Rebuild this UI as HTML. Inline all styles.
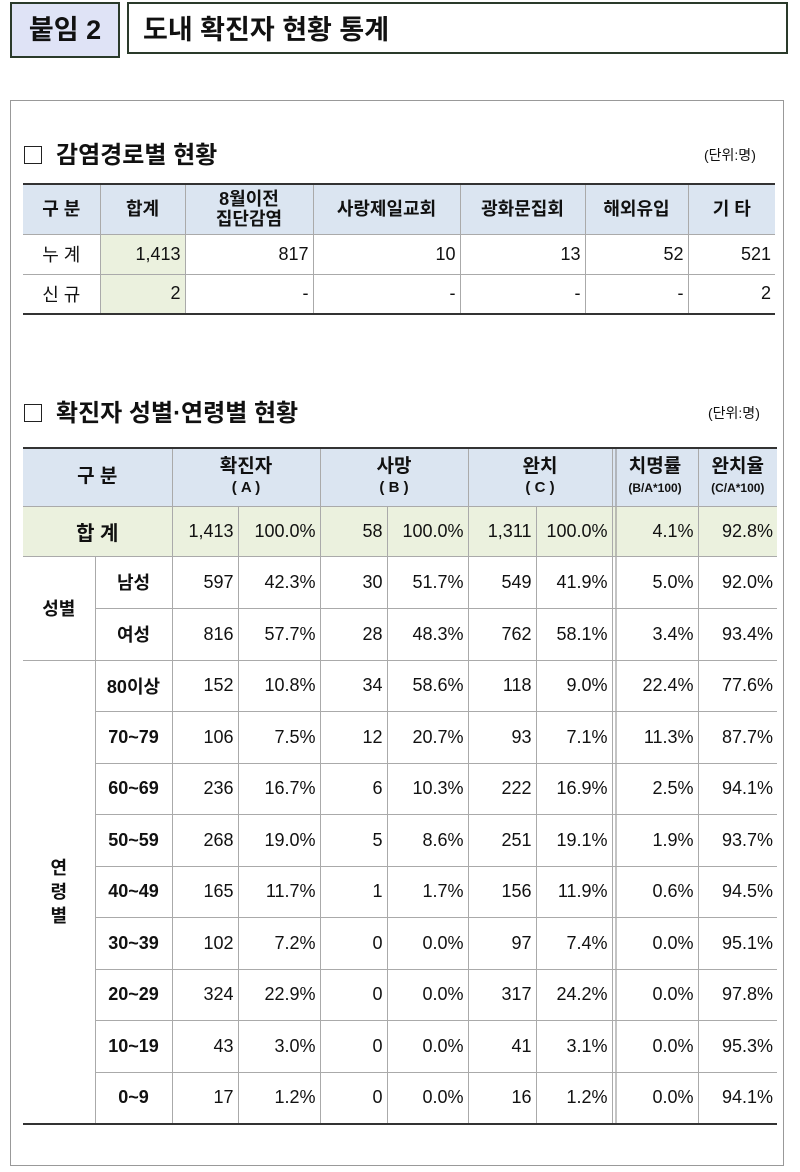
<!DOCTYPE html>
<html><head><meta charset="utf-8"><style>
body{margin:0;width:800px;height:1172px;background:#fff;font-family:"Liberation Sans","Noto Sans CJK KR",sans-serif;position:relative;overflow:hidden;color:#111}
.abs{position:absolute}
.tag{left:10px;top:2px;width:106px;height:52px;background:#dfe3f6;border:2px solid #2a3a2a;font-size:27px;font-weight:bold;line-height:52px;text-align:center;box-sizing:content-box}
.ttl{left:127px;top:2px;width:661px;height:52px;border:2px solid #2a3a2a;font-size:27px;font-weight:bold;line-height:52px;padding-left:14px;box-sizing:border-box}
.frame{left:10px;top:100px;width:772px;height:1064px;border:1px solid #999}
.sec{font-size:24px;font-weight:bold}
.box{display:inline-block;width:16px;height:16px;border:1.5px solid #222;margin-right:14px;vertical-align:-1px}
.unit{font-size:14px}
table{position:absolute;border-collapse:collapse;table-layout:fixed;font-size:18px}
td{border:1px solid #aaa;padding:0 4px;text-align:right;overflow:hidden;white-space:nowrap}
td:first-child{border-left:none}
tr td:last-child{border-right:none}
.h td{background-color:#dbe5f1;text-align:center;font-weight:600;line-height:20px}
.c{text-align:center}
.g{background-color:#ebf1de}
.b{font-weight:bold}
.dl{border-left:1px solid #888;background-image:linear-gradient(to right,transparent 3px,#888 3px,#888 4px,transparent 4px)}
</style></head><body>
<div class="abs tag">붙임 2</div>
<div class="abs ttl">도내 확진자 현황 통계</div>
<div class="abs frame"></div>

<div class="abs sec" style="left:24px;top:135px"><span class="box"></span>감염경로별 현황</div>
<div class="abs unit" style="left:704px;top:145px">(단위:명)</div>
<table style="left:23px;top:183px;width:752px;border-top:2.5px solid #333;border-bottom:2.5px solid #333">
<colgroup><col style="width:77px"><col style="width:85px"><col style="width:128px"><col style="width:147px"><col style="width:125px"><col style="width:103px"><col style="width:87px"></colgroup>
<tr class="h" style="height:50px"><td>구 분</td><td>합계</td><td>8월이전<br>집단감염</td><td>사랑제일교회</td><td>광화문집회</td><td>해외유입</td><td>기 타</td></tr>
<tr style="height:40px"><td class="c">누 계</td><td class="g">1,413</td><td>817</td><td>10</td><td>13</td><td>52</td><td>521</td></tr>
<tr style="height:40px"><td class="c">신 규</td><td class="g">2</td><td>-</td><td>-</td><td>-</td><td>-</td><td>2</td></tr>
</table>

<div class="abs sec" style="left:24px;top:393px"><span class="box"></span>확진자 성별·연령별 현황</div>
<div class="abs unit" style="left:708px;top:403px">(단위:명)</div>
<table style="left:23px;top:447px;width:754px;border-top:2.5px solid #333;border-bottom:2.5px solid #333">
<colgroup><col style="width:72px"><col style="width:77px"><col style="width:66px"><col style="width:82px"><col style="width:67px"><col style="width:81px"><col style="width:68px"><col style="width:76px"><col style="width:86px"><col style="width:79px"></colgroup>
<tr class="h" style="height:58px;font-size:19px"><td colspan="2">구 분</td><td colspan="2">확진자<br><span style="font-size:15px">( A )</span></td><td colspan="2">사망<br><span style="font-size:15px">( B )</span></td><td colspan="2">완치<br><span style="font-size:15px">( C )</span></td><td class="dl">치명률<br><span style="font-size:12px">(B/A*100)</span></td><td>완치율<br><span style="font-size:12px">(C/A*100)</span></td></tr>
<tr class="g" style="height:50px"><td colspan="2" class="c b" style="font-size:20px">합 계</td><td>1,413</td><td>100.0%</td><td>58</td><td>100.0%</td><td>1,311</td><td>100.0%</td><td class="dl">4.1%</td><td>92.8%</td></tr>
<tr style="height:52px"><td rowspan="2" class="c b">성별</td><td class="c b">남성</td><td>597</td><td>42.3%</td><td>30</td><td>51.7%</td><td>549</td><td>41.9%</td><td class="dl">5.0%</td><td>92.0%</td></tr>
<tr style="height:52px"><td class="c b">여성</td><td>816</td><td>57.7%</td><td>28</td><td>48.3%</td><td>762</td><td>58.1%</td><td class="dl">3.4%</td><td>93.4%</td></tr>
<tr style="height:51.5px"><td rowspan="9" class="c b" style="line-height:24px">연<br>령<br>별</td><td class="c b">80이상</td><td>152</td><td>10.8%</td><td>34</td><td>58.6%</td><td>118</td><td>9.0%</td><td class="dl">22.4%</td><td>77.6%</td></tr>
<tr style="height:51.5px"><td class="c b">70~79</td><td>106</td><td>7.5%</td><td>12</td><td>20.7%</td><td>93</td><td>7.1%</td><td class="dl">11.3%</td><td>87.7%</td></tr>
<tr style="height:51.5px"><td class="c b">60~69</td><td>236</td><td>16.7%</td><td>6</td><td>10.3%</td><td>222</td><td>16.9%</td><td class="dl">2.5%</td><td>94.1%</td></tr>
<tr style="height:51.5px"><td class="c b">50~59</td><td>268</td><td>19.0%</td><td>5</td><td>8.6%</td><td>251</td><td>19.1%</td><td class="dl">1.9%</td><td>93.7%</td></tr>
<tr style="height:51.5px"><td class="c b">40~49</td><td>165</td><td>11.7%</td><td>1</td><td>1.7%</td><td>156</td><td>11.9%</td><td class="dl">0.6%</td><td>94.5%</td></tr>
<tr style="height:51.5px"><td class="c b">30~39</td><td>102</td><td>7.2%</td><td>0</td><td>0.0%</td><td>97</td><td>7.4%</td><td class="dl">0.0%</td><td>95.1%</td></tr>
<tr style="height:51.5px"><td class="c b">20~29</td><td>324</td><td>22.9%</td><td>0</td><td>0.0%</td><td>317</td><td>24.2%</td><td class="dl">0.0%</td><td>97.8%</td></tr>
<tr style="height:51.5px"><td class="c b">10~19</td><td>43</td><td>3.0%</td><td>0</td><td>0.0%</td><td>41</td><td>3.1%</td><td class="dl">0.0%</td><td>95.3%</td></tr>
<tr style="height:51.5px"><td class="c b">0~9</td><td>17</td><td>1.2%</td><td>0</td><td>0.0%</td><td>16</td><td>1.2%</td><td class="dl">0.0%</td><td>94.1%</td></tr>
</table>
</body></html>
